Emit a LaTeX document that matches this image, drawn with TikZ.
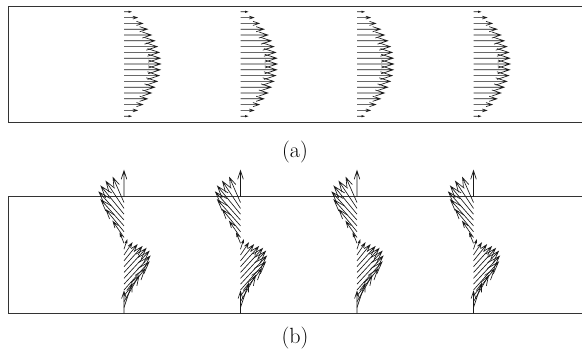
\documentclass[tikz,border=0pt]{standalone}
\usepackage{tikz}
\tikzset{
  wall/.style={draw=black!80,line width=0.7pt},
  vec/.style={draw=black!90,line width=0.65pt,line join=miter},
  caption/.style={font=\fontsize{22}{26}\selectfont,inner sep=0pt}
}
\newcommand\quiv[4]{%
  \pgfmathsetmacro\qtx{#1+#3}\pgfmathsetmacro\qty{#2+#4}%
  \pgfmathsetmacro\qax{\qtx-0.33*(#3+0.33*(#4))}%
  \pgfmathsetmacro\qay{\qty-0.33*(#4-0.33*(#3))}%
  \pgfmathsetmacro\qbx{\qtx-0.33*(#3-0.33*(#4))}%
  \pgfmathsetmacro\qby{\qty-0.33*(#4+0.33*(#3))}%
  \draw[vec] (#1,#2) -- (\qtx,\qty) (\qax,\qay) -- (\qtx,\qty) -- (\qbx,\qby);}
\begin{document}
\begin{tikzpicture}[x=1pt,y=-1pt]
\useasboundingbox (0,0) rectangle (582,357);
\fill[white] (0,0) rectangle (582,357);
% panel (a)
\draw[wall] (590,6) -- (8,6) -- (8,122) -- (590,122);
\foreach \c in {0,...,3}{
  \foreach \e in {-9,...,9}{
    \pgfmathsetmacro\xo{124+116.5*\c}
    \pgfmathsetmacro\yo{64+5.8*\e}
    \pgfmathsetmacro\L{36.5*(1-(\e/10)^2)}
    \quiv{\xo}{\yo}{\L}{0}
  }
}
\node[caption] (capa) at (295,152) {(a)};
% panel (b)
\draw[wall] (590,196.7) -- (8,196.7) -- (8,313.3) -- (590,313.3);
\foreach \c in {0,...,3}{
  \foreach \k/\u/\v in {10/0/26, 9/-11/25, 8/-18/27, 7/-23/28, 6/-25/28, 5/-23/26,
      4/-18/22, 3/-11/16, 2/-4/10, 1/3/9, 0/8/12, -1/13/16, -2/18/20, -3/22/24,
      -4/25/27, -5/26/28, -6/25/28, -7/21/27, -8/15/26, -9/8/24, -10/0/22}{
    \pgfmathsetmacro\xo{124+116.5*\c}
    \pgfmathsetmacro\yo{255-5.83*\k}
    \quiv{\xo}{\yo}{\u}{-\v}
  }
}
\node[caption] (capb) at (295,338) {(b)};
\end{tikzpicture}
\end{document}
